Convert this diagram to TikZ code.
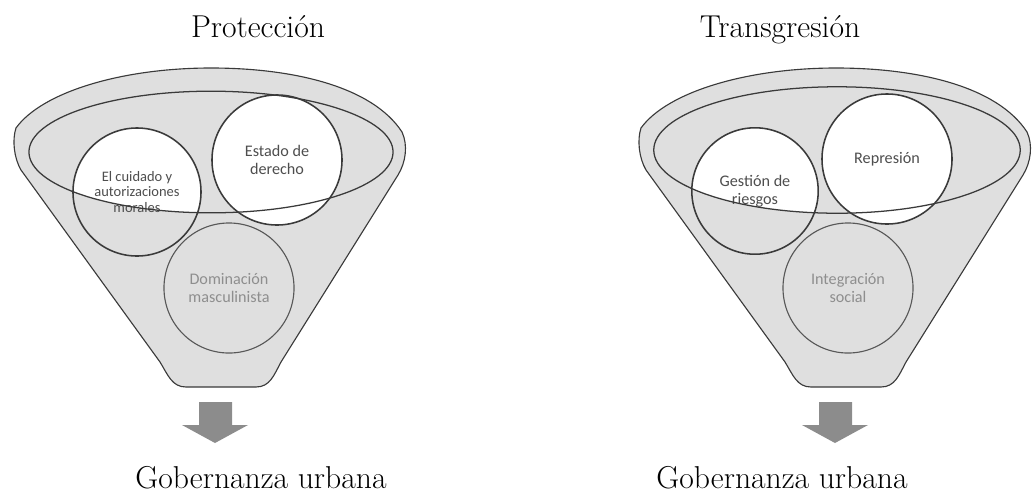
\documentclass[tikz,border=0pt]{standalone}
\usepackage{fontspec}
\newfontfamily\calibri{Carlito}
\usetikzlibrary{positioning}
\definecolor{embudo}{HTML}{DFDFDF}
\definecolor{trazo}{HTML}{3A3A3A}
\definecolor{textoc}{HTML}{4E4E4E}
\definecolor{textog}{HTML}{8E8E8E}
\definecolor{flecha}{HTML}{8C8C8C}
\tikzset{
  embudo/.style={fill=embudo, draw=trazo, line width=0.8pt},
  anillo/.style={draw=trazo, line width=0.9pt},
  circulo/.style={circle, draw=trazo, line width=1.1pt, minimum size=3.25cm, inner sep=0pt,
    align=center, text=textoc, font=\calibri\fontsize{11.5}{13}\selectfont},
  circulog/.style={circulo, draw=trazo!85, line width=0.8pt, text=textog},
  titulo/.style={anchor=base, font=\fontsize{22.5}{26}\selectfont},
  bajar/.style={fill=flecha},
}
\begin{document}
\begin{tikzpicture}[x=0.025cm, y=-0.025cm]
    \useasboundingbox (0,0) rectangle (1032,495);

    \filldraw[embudo] (21,170) -- (160,362) .. controls (168,375) and (172,387) .. (186,387)
      -- (256,387) .. controls (270,387) and (274,375) .. (281,362) -- (398,175)
      .. controls (406,162) and (408,145) .. (402,132) .. controls (372,86) and (292,68) .. (211,68)
      .. controls (122,68) and (42,92) .. (16,128) .. controls (12,140) and (14,158) .. (21,170) -- cycle;
    \begin{scope}[shift={(625,0)}]
    \filldraw[embudo] (21,170) -- (160,362) .. controls (168,375) and (172,387) .. (186,387)
      -- (256,387) .. controls (270,387) and (274,375) .. (281,362) -- (398,175)
      .. controls (406,162) and (408,145) .. (402,132) .. controls (372,86) and (292,68) .. (211,68)
      .. controls (122,68) and (42,92) .. (16,128) .. controls (12,140) and (14,158) .. (21,170) -- cycle;
    \end{scope}

    \begin{scope}
    \clip (211,152) ellipse [x radius=4.55cm, y radius=1.52cm];
    \fill[white] (137,192) circle [radius=1.6cm];
    \end{scope}
    \begin{scope}
    \clip (837,150) ellipse [x radius=4.58cm, y radius=1.58cm];
    \fill[white] (755,191) circle [radius=1.58cm];
    \end{scope}

    \node[titulo] (P) at (258,37) {Protección};
    \node[circulo, minimum size=3.2cm, font=\calibri\fontsize{10.3}{10.8}\selectfont] (P1) at (137,192)
      {El cuidado y\\autorizaciones\\morales};
    \node[circulo, fill=white] (P2) at (277,160) {Estado de\\derecho};
    \node[circulog] (P3) at (229,288) {Dominación\\masculinista};
    \fill[bajar] (199,402) -- (232,402) -- (232,425) -- (248,425) -- (215,443) -- (182,425) -- (199,425) -- cycle;
    \node[titulo] (PG) at (261,488) {Gobernanza urbana};

    \node[titulo] (T) at (780,37) {Transgresión};
    \node[circulo, minimum size=3.16cm] (T1) at (755,191) {Gestión de\\riesgos};
    \node[circulo, fill=white] (T2) at (887,159) {Represión};
    \node[circulog] (T3) at (848,288) {Integración\\social};
    \fill[bajar] (819,402) -- (852,402) -- (852,425) -- (868,425) -- (835,443) -- (802,425) -- (819,425) -- cycle;
    \node[titulo] (TG) at (782,488) {Gobernanza urbana};

    \draw[anillo] (211,152) ellipse [x radius=4.55cm, y radius=1.52cm];
    \draw[anillo] (837,150) ellipse [x radius=4.58cm, y radius=1.58cm];
\end{tikzpicture}
\end{document}
